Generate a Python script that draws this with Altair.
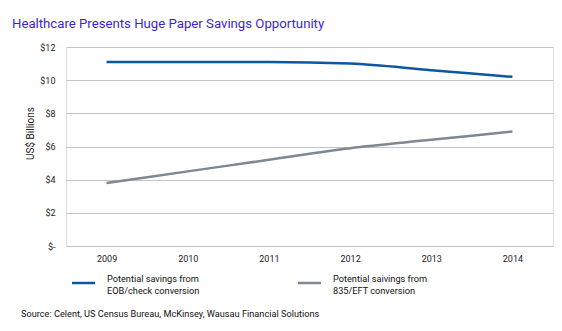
import altair as alt
import pandas as pd

years = ["2009", "2010", "2011", "2012", "2013", "2014"]
eob_check = [11.1, 11.1, 11.1, 11.0, 10.6, 10.2]
eft_835 = [3.8, 4.5, 5.2, 5.9, 6.4, 6.9]
series_names = ["Potential savings from EOB/check conversion",
                "Potential saivings from 835/EFT conversion"]
legend_lines = [["Potential savings from", "EOB/check conversion"],
                ["Potential saivings from", "835/EFT conversion"]]
y_ticks = [0, 2, 4, 6, 8, 10, 12]
title_text = "Healthcare Presents Huge Paper Savings Opportunity"
source_text = "Source: Celent, US Census Bureau, McKinsey, Wausau Financial Solutions"
colors = ["#0b57a4", "#7f8790"]

FONT = "Roboto"

df = pd.DataFrame({
    "year": years * 2,
    "value": eob_check + eft_835,
    "series": [series_names[0]] * len(years) + [series_names[1]] * len(years),
})

W, H = 487, 199

lines = alt.Chart(df).mark_line(strokeWidth=2.5, interpolate="monotone").encode(
    x=alt.X("year:O", sort=years,
            scale=alt.Scale(type="point", padding=0.5),
            axis=alt.Axis(title=None, labelAngle=0, ticks=False, domain=False,
                          labelPadding=8, labelFontSize=9, labelColor="#222",
                          labelFont=FONT)),
    y=alt.Y("value:Q", scale=alt.Scale(domain=[0, 12], nice=False),
            axis=alt.Axis(title="US$ Billions", values=y_ticks,
                          labelExpr="datum.value == 0 ? '$-' : '$' + datum.value",
                          ticks=False, domain=False, gridColor="#c4c4c4",
                          gridWidth=1, labelPadding=11, labelFontSize=9,
                          labelColor="#222", labelFont=FONT,
                          titleFont=FONT, titleFontSize=10, titleFontWeight="normal",
                          titleColor="#222", titleX=-36, titleY=86,
                          titleAlign="center", titleBaseline="middle")),
    color=alt.Color("series:N", sort=series_names,
                    scale=alt.Scale(domain=series_names, range=colors),
                    legend=None),
)

base_one = alt.Chart(pd.DataFrame({"t": [0]}))

leg_layers = []
leg_x = [6, 232]
for i in range(2):
    leg_layers.append(
        base_one.mark_rule(strokeWidth=2.5, color=colors[i]).encode(
            x=alt.value(leg_x[i]), x2=alt.value(leg_x[i] + 23), y=alt.value(236))
    )
    leg_layers.append(
        alt.Chart(pd.DataFrame({"t": [legend_lines[i]]})).mark_text(
            align="left", baseline="middle", font=FONT, fontSize=9.2,
            color="#111", lineHeight=12).encode(
            text="t:N", x=alt.value(leg_x[i] + 35), y=alt.value(232))
    )

source = alt.Chart(pd.DataFrame({"t": [source_text]})).mark_text(
    align="left", baseline="alphabetic", font=FONT, fontSize=9.2, color="#111"
).encode(text="t:N", x=alt.value(-45), y=alt.value(270))

title = alt.Chart(pd.DataFrame({"t": [title_text]})).mark_text(
    align="left", baseline="alphabetic", font=FONT, fontSize=13.2, color="#3a1fe0"
).encode(text="t:N", x=alt.value(-54), y=alt.value(-19))

chart = alt.layer(lines, *leg_layers, source, title).properties(
    width=W, height=H,
    autosize=alt.AutoSizeParams(type="none"),
    padding={"left": 66, "top": 47, "right": 9, "bottom": 85},
).configure_view(stroke=None).configure(background="white")

chart.save("out.html", embed_options={"renderer": "svg", "actions": False})
